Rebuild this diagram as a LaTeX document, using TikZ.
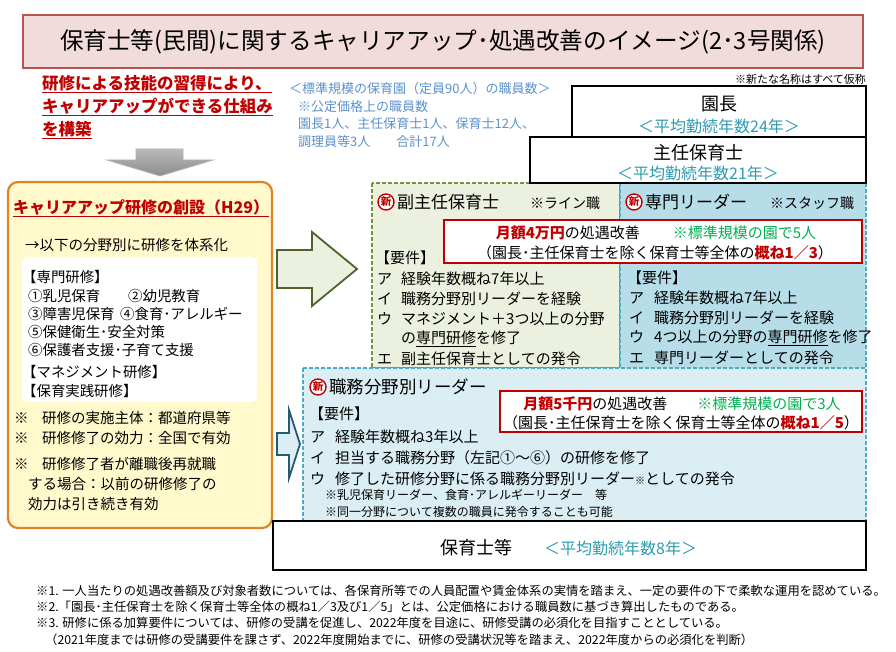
\documentclass[tikz,border=0pt]{standalone}
\usepackage{fontspec}
\setmainfont{Noto Sans CJK JP}
\definecolor{redc}{HTML}{C00000}
\definecolor{titlefill}{HTML}{F2DCDB}
\definecolor{titleline}{HTML}{B85450}
\definecolor{staffc}{HTML}{5B92CF}
\definecolor{tealc}{HTML}{2E9CB0}
\definecolor{greenc}{HTML}{00B050}
\definecolor{orangec}{HTML}{E0842A}
\definecolor{yellowc}{HTML}{FFF9CC}
\definecolor{greenfill}{HTML}{EBF1DE}
\definecolor{greenline}{HTML}{77933C}
\definecolor{bluefill}{HTML}{B7DDE8}
\definecolor{blueline}{HTML}{4BACC6}
\definecolor{lightblue}{HTML}{DAEEF3}
\definecolor{arrowgreen}{HTML}{4F6228}
\definecolor{arrowblue}{HTML}{245B6E}
\newcommand\myfs[1]{\fontsize{#1}{#1}\selectfont}
\tikzset{
  t/.style={anchor=west, inner sep=0pt, font=\myfs{15}},
  tl/.style={anchor=west, inner sep=0pt, font=\myfs{14.4}},
  tc/.style={inner sep=0pt, font=\myfs{15}},
  redhead/.style={t, text=redc, font=\myfs{16.5}\bfseries},
  staff/.style={t, text=staffc, font=\myfs{13}},
  rankbox/.style={draw=black, line width=2.2pt, fill=white},
  dashbox/.style={dashed, dash pattern=on 4pt off 2pt, line width=1.3pt},
  redbox/.style={draw=redc, line width=1.2pt, fill=white},
  shin/.style={circle, draw=redc, line width=1.4pt, fill=white, text=redc, inner sep=0pt, minimum size=16pt, font=\myfs{10.5}\bfseries},
  head/.style={t, font=\myfs{17}},
  note/.style={t, font=\myfs{14}},
  small/.style={t, font=\myfs{12}},
  foot/.style={t, font=\myfs{12.3}},
}
\begin{document}
\begin{tikzpicture}[x=1pt,y=-1pt]
\useasboundingbox (0,0) rectangle (896,652);
\fill[white] (0,0) rectangle (896,652);

% title
\node[draw=titleline, line width=1.8pt, fill=titlefill, minimum width=840pt, minimum height=53pt, inner sep=0pt, font=\myfs{23.6}] (title) at (443,41.5) {保育士等(民間)に関するキャリアアップ･処遇改善のイメージ(2･3号関係)};

% red heading
\node[redhead] (h1) at (42,84) {\underline{研修による技能の習得により、}};
\node[redhead] (h2) at (42,107) {\underline{キャリアアップができる仕組み}};
\node[redhead] (h3) at (42,130) {\underline{を構築}};

% grey arrow
\draw[draw=gray!60, line width=0.8pt, top color=gray!55, bottom color=gray!90] (136,149) -- (183,149) -- (183,160) -- (213,160) -- (160,176) -- (107,160) -- (136,160) -- cycle;

% staff info
\node[staff] (s1) at (289,89) {＜標準規模の保育園（定員90人）の職員数＞};
\node[staff] (s2) at (298,107) {※公定価格上の職員数};
\node[staff] (s3) at (298,124) {園長1人、主任保育士1人、保育士12人、};
\node[staff] (s4) at (298,142) {調理員等3人\hspace{2em}合計17人};
\node[inner sep=0pt, anchor=east, font=\myfs{11}] (kasho) at (866,79) {※新たな名称はすべて仮称};

% orange box
\draw[draw=orangec, line width=2.2pt, fill=yellowc, rounded corners=10pt] (8,182) rectangle (272,528);
\node[redhead, font=\myfs{16}\bfseries] (ct) at (13,208) {\underline{キャリアアップ研修の創設（H29）}};
\node[t, font=\myfs{14.5}] (c0) at (25,245) {→以下の分野別に研修を体系化};
\fill[white, rounded corners=6pt] (22,257) rectangle (257,402);
\node[tl] (c1) at (22,277) {【専門研修】};
\node[tl] (c2) at (28,296) {①乳児保育};
\node[tl] (c2b) at (128,296) {②幼児教育};
\node[tl] (c3) at (28,314) {③障害児保育};
\node[tl] (c3b) at (120,314) {④食育･アレルギー};
\node[tl] (c4) at (28,332) {⑤保健衛生･安全対策};
\node[tl] (c5) at (28,350) {⑥保護者支援･子育て支援};
\node[tl] (c6) at (22,372) {【マネジメント研修】};
\node[tl] (c7) at (22,391) {【保育実践研修】};
\node[t, font=\myfs{14.5}] (c8) at (14,418) {\makebox[28pt][l]{※}研修の実施主体：都道府県等};
\node[t, font=\myfs{14.5}] (c9) at (14,438) {\makebox[28pt][l]{※}研修修了の効力：全国で有効};
\node[t, font=\myfs{14.5}] (c10) at (14,464) {\makebox[28pt][l]{※}研修修了者が離職後再就職};
\node[t, font=\myfs{14.5}] (c11) at (28,484) {する場合：以前の研修修了の};
\node[t, font=\myfs{14.5}] (c12) at (28,504) {効力は引き続き有効};

% block arrows
\draw[draw=arrowgreen, line width=1.8pt, fill=greenfill, line join=miter] (277,250) -- (312,250) -- (312,232) -- (357,269) -- (312,306) -- (312,288) -- (277,288) -- cycle;
\draw[draw=arrowblue, line width=1.8pt, fill=lightblue, line join=miter] (277,433) -- (289,433) -- (289,410) -- (300,444) -- (289,478) -- (289,455) -- (277,455) -- cycle;

% green and blue boxes
\draw[dashbox, draw=greenline, fill=greenfill] (372,183) rectangle (620,368);
\draw[dashbox, draw=blueline, fill=bluefill] (620,183) rectangle (866,368);
\draw[dashbox, draw=blueline, fill=lightblue] (303,368) rectangle (866,521);

% rank boxes
\draw[rankbox] (530,137) rectangle (866,183);
\draw[rankbox] (572,86) rectangle (866,137);
\node[tc, font=\myfs{18}] (encho) at (719,104) {園長};
\node[tc, font=\myfs{16}, text=tealc] (encho2) at (719,126) {＜平均勤続年数24年＞};
\node[tc, font=\myfs{18}] (shunin) at (698,153) {主任保育士};
\node[tc, font=\myfs{16}, text=tealc] (shunin2) at (698,173) {＜平均勤続年数21年＞};

% 副主任保育士
\node[shin] (n1) at (386,202) {新};
\node[head] (fh) at (397,202) {副主任保育士};
\node[note] (fh2) at (530,203) {※ライン職};
\node[t] (f0) at (375,258) {【要件】};
\node[t] (f1) at (377,279) {\makebox[24pt][l]{ア}経験年数概ね7年以上};
\node[t] (f2) at (377,299) {\makebox[24pt][l]{イ}職務分野別リーダーを経験};
\node[t] (f3) at (377,319) {\makebox[24pt][l]{ウ}マネジメント＋3つ以上の分野};
\node[t] (f4) at (401,339) {の\underline{専門研修}を修了};
\node[t] (f5) at (377,359) {\makebox[24pt][l]{エ}副主任保育士としての発令};

% 専門リーダー
\node[shin] (n2) at (634,202) {新};
\node[head] (sh) at (645,202) {専門リーダー};
\node[note] (sh2) at (770,203) {※スタッフ職};
\node[t] (p0) at (627,278) {【要件】};
\node[t] (p1) at (629,298) {\makebox[25pt][l]{ア}経験年数概ね7年以上};
\node[t] (p2) at (629,318) {\makebox[25pt][l]{イ}職務分野別リーダーを経験};
\node[t] (p3) at (629,338) {\makebox[25pt][l]{ウ}4つ以上の分野の\underline{専門研修}を修了};
\node[t] (p4) at (629,358) {\makebox[25pt][l]{エ}専門リーダーとしての発令};

% red box 1
\draw[redbox] (444,220) rectangle (862,263);
\node[tc] (r1a) at (656,233) {{\color{redc}\bfseries 月額4万円}の処遇改善\hspace{2.2em}{\color{greenc}※標準規模の園で5人}};
\node[tc] (r1b) at (655,253) {（園長･主任保育士を除く保育士等全体の{\color{redc}\bfseries 概ね1／3}）};

% 職務分野別リーダー
\node[shin] (n3) at (318,387) {新};
\node[head, font=\myfs{17.5}] (lh) at (329,387) {職務分野別リーダー};
\draw[redbox] (500,391) rectangle (862,432);
\node[tc] (r2a) at (682,404) {{\color{redc}\bfseries 月額5千円}の処遇改善\hspace{2em}{\color{greenc}※標準規模の園で3人}};
\node[tc] (r2b) at (681,423) {（園長･主任保育士を除く保育士等全体の{\color{redc}\bfseries 概ね1／5}）};
\node[t] (l0) at (309,414) {【要件】};
\node[t] (l1) at (310,437) {\makebox[25pt][l]{ア}経験年数概ね3年以上};
\node[t] (l2) at (310,458) {\makebox[25pt][l]{イ}担当する職務分野（左記①～⑥）の研修を修了};
\node[t] (l3) at (310,479) {\makebox[25pt][l]{ウ}修了した研修分野に係る職務分野別リーダー{\myfs{10}※}としての発令};
\node[small] (l4) at (325,495) {※乳児保育リーダー、食育･アレルギーリーダー\hspace{1em}等};
\node[small] (l5) at (325,512) {※同一分野について複数の職員に発令することも可能};

% 保育士等
\draw[rankbox] (273,521) rectangle (866,570);
\node[t, font=\myfs{18}] (hoiku) at (440,548) {保育士等};
\node[t, font=\myfs{16}, text=tealc] (hoiku2) at (544,548) {＜平均勤続年数8年＞};

% footnotes
\node[foot] (ft1) at (36,591) {※1. 一人当たりの処遇改善額及び対象者数については、各保育所等での人員配置や賃金体系の実情を踏まえ、一定の要件の下で柔軟な運用を認めている。};
\node[foot] (ft2) at (36,607) {※2.「園長･主任保育士を除く保育士等全体の概ね1／3及び1／5」とは、公定価格における職員数に基づき算出したものである。};
\node[foot] (ft3) at (36,623) {※3. 研修に係る加算要件については、研修の受講を促進し、2022年度を目途に、研修受講の必須化を目指すこととしている。};
\node[foot] (ft4) at (45,640) {（2021年度までは研修の受講要件を課さず、2022年度開始までに、研修の受講状況等を踏まえ、2022年度からの必須化を判断）};
\end{tikzpicture}
\end{document}
